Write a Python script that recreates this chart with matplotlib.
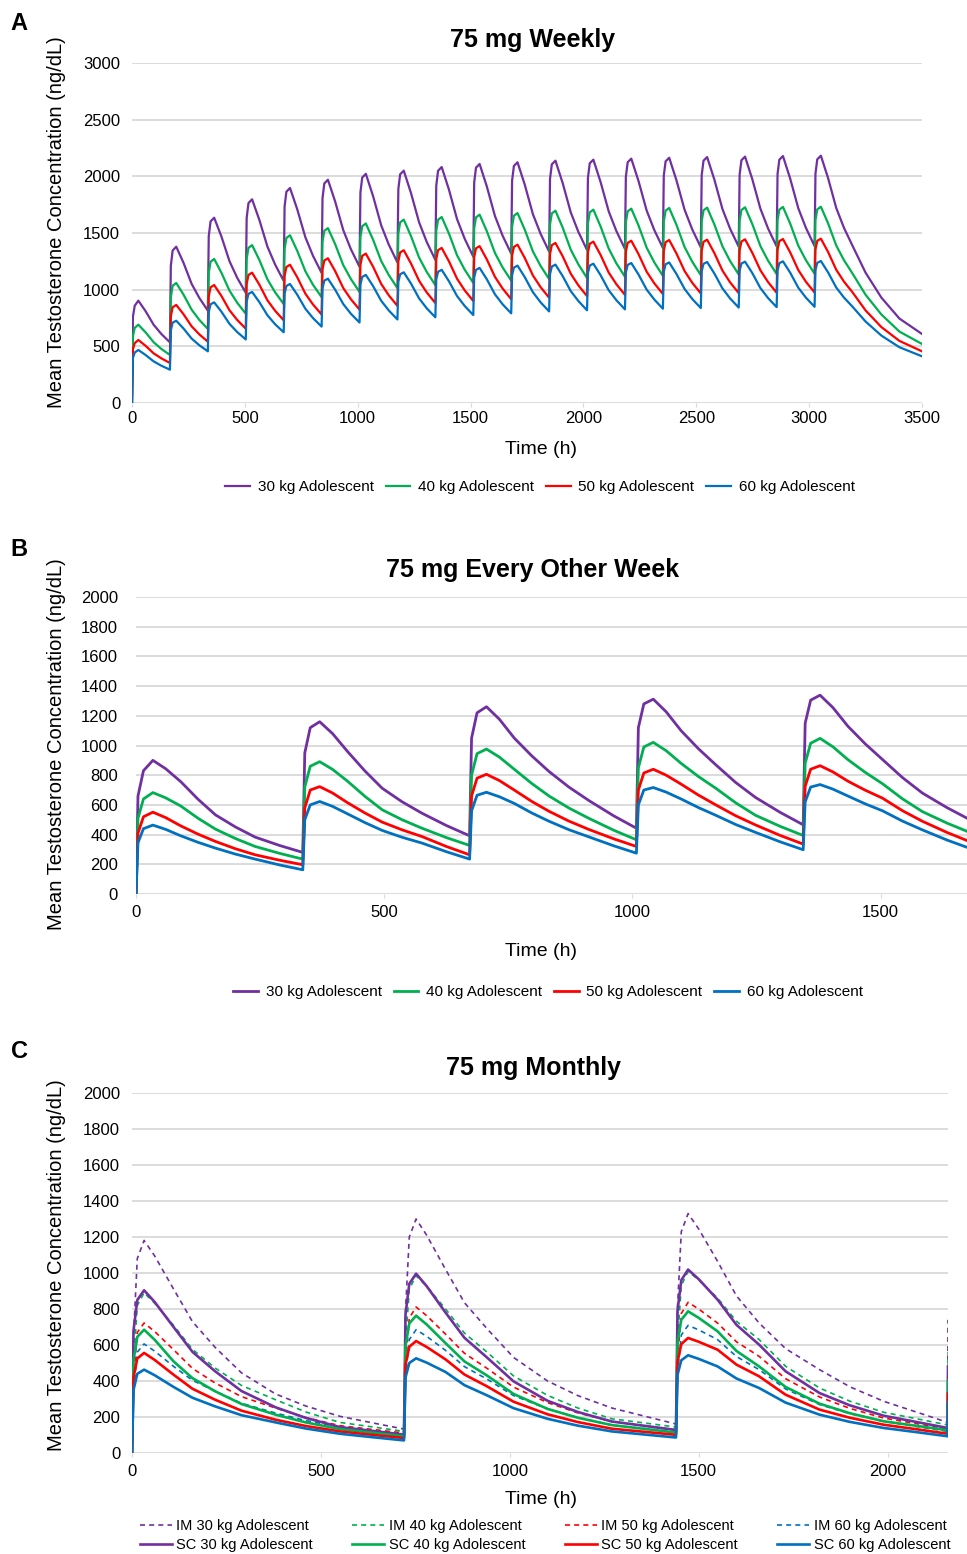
import numpy as np
import matplotlib
matplotlib.use("Agg")
import matplotlib.pyplot as plt

plt.rcParams['font.family'] = ['Liberation Sans', 'DejaVu Sans']

# colours used by the original (Excel standard palette)
PURPLE, GREEN, RED, BLUE = '#7030A0', '#00B050', '#FF0000', '#0070C0'
GRID = '#D9D9D9'

# ---------------- Panel A: 75 mg weekly ----------------
dose_a = [0, 168, 336, 504, 672, 840, 1008, 1176, 1344, 1512, 1680, 1848,
          2016, 2184, 2352, 2520, 2688, 2856, 3024]
# sampling times after each dose (h): pre-dose, rise, near peak, peak, decline...
off_a = [0, 4, 12, 28, 60, 96, 130]
tail_a_h = [3192, 3250, 3320, 3400, 3500]

conc_a30 = [
    0, 760, 858, 903, 811, 690, 609,
    535, 1210, 1345, 1379, 1238, 1052, 928,
    815, 1471, 1602, 1635, 1470, 1251, 1105,
    973, 1632, 1764, 1797, 1617, 1380, 1222,
    1078, 1733, 1864, 1897, 1710, 1463, 1298,
    1148, 1806, 1937, 1970, 1778, 1525, 1356,
    1202, 1858, 1989, 2022, 1826, 1568, 1396,
    1240, 1888, 2018, 2050, 1853, 1594, 1420,
    1263, 1918, 2049, 2082, 1884, 1623, 1449,
    1291, 1945, 2076, 2109, 1911, 1650, 1476,
    1318, 1963, 2092, 2124, 1927, 1667, 1494,
    1336, 1978, 2106, 2138, 1941, 1681, 1508,
    1350, 1988, 2115, 2147, 1950, 1691, 1517,
    1360, 1997, 2124, 2156, 1959, 1699, 1526,
    1368, 2005, 2132, 2164, 1966, 1706, 1532,
    1374, 2011, 2138, 2170, 1972, 1711, 1537,
    1379, 2015, 2142, 2174, 1976, 1715, 1540,
    1382, 2020, 2147, 2179, 1980, 1718, 1544,
    1385, 2023, 2150, 2182, 1984, 1721, 1547,
    1388, 1150, 930, 745, 609]

conc_a40 = [
    0, 587, 663, 691, 624, 536, 477,
    424, 932, 1034, 1059, 957, 824, 734,
    653, 1147, 1246, 1271, 1150, 991, 885,
    788, 1272, 1369, 1393, 1263, 1091, 977,
    873, 1359, 1456, 1480, 1343, 1163, 1043,
    934, 1421, 1519, 1543, 1402, 1216, 1093,
    980, 1463, 1560, 1584, 1441, 1253, 1128,
    1014, 1497, 1594, 1618, 1473, 1283, 1156,
    1040, 1521, 1617, 1641, 1496, 1304, 1176,
    1060, 1542, 1638, 1662, 1516, 1324, 1196,
    1080, 1557, 1652, 1676, 1530, 1338, 1210,
    1094, 1576, 1673, 1697, 1548, 1352, 1222,
    1103, 1585, 1682, 1706, 1558, 1363, 1232,
    1114, 1595, 1691, 1715, 1567, 1371, 1241,
    1122, 1601, 1697, 1721, 1573, 1377, 1247,
    1128, 1605, 1700, 1724, 1576, 1382, 1252,
    1134, 1608, 1703, 1727, 1580, 1385, 1256,
    1138, 1612, 1706, 1730, 1583, 1388, 1259,
    1141, 1614, 1708, 1732, 1585, 1390, 1261,
    1143, 955, 781, 630, 521]

conc_a50 = [
    0, 473, 528, 556, 505, 438, 394,
    353, 763, 845, 865, 784, 677, 606,
    541, 941, 1021, 1041, 945, 818, 733,
    656, 1051, 1130, 1150, 1045, 906, 814,
    730, 1122, 1200, 1220, 1110, 965, 869,
    781, 1178, 1257, 1277, 1164, 1014, 915,
    824, 1219, 1298, 1318, 1203, 1051, 949,
    857, 1250, 1328, 1348, 1231, 1078, 975,
    882, 1271, 1349, 1368, 1251, 1097, 994,
    900, 1287, 1365, 1384, 1267, 1113, 1010,
    916, 1301, 1378, 1397, 1280, 1126, 1023,
    929, 1315, 1393, 1412, 1295, 1140, 1037,
    943, 1328, 1405, 1424, 1306, 1151, 1048,
    954, 1336, 1413, 1432, 1314, 1159, 1056,
    962, 1343, 1419, 1438, 1320, 1165, 1061,
    967, 1346, 1422, 1441, 1323, 1168, 1064,
    970, 1349, 1425, 1444, 1326, 1171, 1067,
    973, 1352, 1428, 1447, 1329, 1173, 1069,
    975, 1355, 1431, 1450, 1332, 1176, 1072,
    977, 817, 670, 548, 456]

conc_a60 = [
    0, 398, 445, 468, 424, 367, 329,
    294, 640, 709, 726, 658, 569, 510,
    456, 802, 871, 888, 806, 698, 626,
    561, 896, 963, 980, 891, 774, 695,
    624, 965, 1033, 1050, 956, 832, 749,
    674, 1012, 1080, 1097, 1000, 873, 787,
    710, 1046, 1113, 1130, 1032, 902, 816,
    737, 1070, 1136, 1153, 1054, 923, 835,
    756, 1091, 1158, 1175, 1075, 944, 856,
    776, 1109, 1175, 1192, 1092, 959, 871,
    791, 1128, 1195, 1212, 1111, 978, 889,
    808, 1138, 1204, 1221, 1120, 987, 899,
    818, 1147, 1213, 1229, 1128, 995, 907,
    826, 1153, 1219, 1235, 1134, 1001, 913,
    832, 1158, 1224, 1240, 1139, 1007, 918,
    838, 1163, 1228, 1244, 1143, 1011, 922,
    842, 1166, 1231, 1247, 1147, 1014, 926,
    846, 1169, 1234, 1250, 1150, 1017, 929,
    849, 1172, 1237, 1253, 1152, 1019, 931,
    850, 719, 595, 492, 412]

# ---------------- Panel B: 75 mg every other week ----------------
dose_b = [0, 336, 672, 1008, 1344]
off_b = [0, 4, 15, 34, 60, 90, 125, 160, 200, 240, 290]
end_b_h = [1680]

conc_b30 = [0, 660, 830, 900, 843, 757, 638, 533, 452, 383, 326,
            280, 950, 1120, 1160, 1080, 960, 829, 712, 621, 544, 460,
            392, 1050, 1220, 1261, 1177, 1050, 931, 825, 720, 630, 527,
            443, 1120, 1280, 1312, 1227, 1100, 978, 870, 751, 650, 549,
            466, 1150, 1305, 1339, 1255, 1130, 1011, 905, 784, 680, 581,
            500]
conc_b40 = [0, 510, 640, 683, 647, 593, 510, 437, 374, 320, 273,
            235, 720, 860, 891, 839, 760, 658, 567, 500, 443, 379,
            327, 800, 945, 976, 922, 840, 745, 660, 579, 510, 430,
            365, 850, 990, 1021, 965, 880, 791, 712, 614, 530, 455,
            394, 880, 1015, 1048, 991, 905, 819, 742, 641, 555, 477,
            414]
conc_b50 = [0, 410, 520, 551, 514, 459, 403, 354, 305, 264, 227,
            197, 580, 700, 723, 680, 615, 546, 484, 432, 387, 319,
            264, 660, 780, 806, 764, 700, 624, 557, 491, 435, 372,
            320, 700, 815, 840, 800, 740, 666, 600, 527, 465, 394,
            336, 725, 840, 864, 822, 760, 699, 645, 561, 490, 414,
            352]
conc_b60 = [0, 345, 440, 464, 435, 392, 348, 309, 269, 235, 195,
            163, 500, 600, 623, 590, 540, 481, 428, 382, 343, 284,
            235, 560, 665, 685, 655, 610, 546, 490, 433, 385, 325,
            275, 600, 700, 717, 686, 640, 582, 530, 468, 415, 351,
            298, 620, 720, 737, 706, 660, 607, 560, 491, 432, 363,
            307]

# ---------------- Panel C: 75 mg monthly, IM vs SC ----------------
dose_c = [0, 720, 1440]
off_c = [0, 4, 14, 32, 60, 110, 160, 220, 290, 380, 460, 550, 640]
end_c_h = [2159, 2160]   # last trough, then the next dose starting

im30 = [0, 650, 1080, 1181, 1095, 911, 730, 587, 445, 328, 261, 204, 166,
        133, 790, 1200, 1300, 1210, 1020, 835, 690, 531, 400, 319, 250, 203,
        161, 810, 1230, 1330, 1245, 1065, 873, 722, 580, 463, 368, 287, 225,
        170, 740]
im40 = [0, 490, 820, 890, 832, 709, 576, 472, 375, 296, 228, 170, 144,
        120, 600, 910, 985, 926, 800, 666, 560, 428, 320, 250, 190, 166,
        144, 620, 930, 1009, 962, 861, 732, 630, 482, 361, 288, 226, 189,
        156, 560]
im50 = [0, 400, 670, 722, 675, 574, 470, 389, 313, 250, 197, 152, 130,
        111, 500, 750, 811, 763, 660, 554, 470, 366, 280, 223, 175, 150,
        128, 520, 775, 837, 800, 722, 618, 537, 413, 311, 248, 194, 162,
        133, 450]
im60 = [0, 335, 560, 606, 566, 481, 404, 343, 276, 222, 180, 144, 122,
        102, 420, 630, 685, 648, 570, 480, 410, 319, 245, 196, 155, 135,
        118, 440, 655, 709, 684, 630, 536, 463, 356, 269, 219, 176, 146,
        120, 380]
sc30 = [0, 680, 850, 904, 839, 700, 562, 454, 344, 254, 195, 144, 122,
        102, 770, 940, 996, 927, 780, 640, 530, 398, 290, 228, 175, 150,
        128, 790, 960, 1019, 966, 852, 712, 602, 454, 333, 265, 207, 171,
        139, 480]
sc40 = [0, 515, 645, 685, 629, 509, 416, 343, 272, 213, 170, 133, 112,
        93, 595, 720, 763, 714, 610, 509, 430, 328, 245, 196, 155, 133,
        114, 615, 740, 787, 751, 676, 567, 481, 367, 274, 221, 176, 150,
        126, 400]
sc50 = [0, 420, 525, 556, 517, 435, 357, 296, 235, 185, 150, 120, 100,
        83, 490, 590, 622, 589, 520, 436, 370, 285, 215, 172, 135, 117,
        101, 505, 605, 639, 618, 574, 491, 426, 324, 241, 196, 157, 131,
        107, 330]
sc60 = [0, 350, 440, 463, 432, 367, 307, 259, 210, 170, 136, 107, 87,
        70, 420, 500, 526, 502, 450, 377, 320, 249, 190, 152, 120, 102,
        86, 435, 515, 543, 523, 481, 414, 361, 280, 213, 173, 139, 115,
        93, 280]

weights = ['30', '40', '50', '60']
colors = [PURPLE, GREEN, RED, BLUE]


def sample_times(doses, offsets, extra):
    return np.array([d + o for d in doses for o in offsets] + extra)


W, H = 967, 1554
fig = plt.figure(figsize=(W / 100, H / 100), dpi=100)


def box(left, right, top, bottom):
    return [left / W, 1 - bottom / H, (right - left) / W, (bottom - top) / H]


def style(ax, xmax, xticks, ymax, ystep, ypad, xpad):
    ax.set_xlim(0, xmax)
    ax.set_ylim(0, ymax)
    ax.set_xticks(xticks)
    ax.set_yticks(np.arange(0, ymax + 1, ystep))
    ax.grid(axis='y', color=GRID, lw=1.3)
    ax.set_axisbelow(True)
    for s in ax.spines.values():
        s.set_visible(False)
    ax.tick_params(axis='y', length=0, labelsize=12, pad=ypad)
    ax.tick_params(axis='x', length=3, color=GRID, labelsize=12, pad=xpad)


def ftext(x, y, s, **kw):
    fig.text(x / W, 1 - y / H, s, ha='center', va='center', **kw)


YLAB = 'Mean Testosterone Concentration (ng/dL)'

# ---- A ----
ax_a = fig.add_axes(box(132, 922, 63, 403))
t_a = sample_times(dose_a, off_a, tail_a_h)
handles = []
for w, c, y in zip(weights, colors, [conc_a30, conc_a40, conc_a50, conc_a60]):
    h, = ax_a.plot(t_a, y, color=c, lw=1.6, label=f'{w} kg Adolescent')
    handles.append(h)
style(ax_a, 3500, np.arange(0, 3501, 500), 3000, 500, 8.5, 2.5)
fig.legend(handles=handles, loc='center', bbox_to_anchor=(540 / W, 1 - 487 / H),
           ncol=4, frameon=False, fontsize=11, handlelength=1.6,
           handletextpad=0.5, columnspacing=0.8)
ftext(19, 24, 'A', fontsize=17, fontweight='bold')
ftext(533, 40, '75 mg Weekly', fontsize=18, fontweight='bold')
ftext(57, 222, YLAB, rotation=90, fontsize=14.5)
ftext(541, 450, 'Time (h)', fontsize=14)

# ---- B ----
ax_b = fig.add_axes(box(136, 967, 597, 894))
t_b = sample_times(dose_b, off_b, end_b_h)
handles = []
for w, c, y in zip(weights, colors, [conc_b30, conc_b40, conc_b50, conc_b60]):
    h, = ax_b.plot(t_b, y, color=c, lw=2.0, label=f'{w} kg Adolescent')
    handles.append(h)
style(ax_b, 1674, [0, 500, 1000, 1500], 2000, 200, 13, 5)
fig.legend(handles=handles, loc='center', bbox_to_anchor=(548 / W, 1 - 992 / H),
           ncol=4, frameon=False, fontsize=11, handlelength=1.6,
           handletextpad=0.5, columnspacing=0.8)
ftext(19, 549, 'B', fontsize=17, fontweight='bold')
ftext(533, 570, '75 mg Every Other Week', fontsize=18, fontweight='bold')
ftext(57, 744, YLAB, rotation=90, fontsize=14.5)
ftext(541, 951, 'Time (h)', fontsize=14)

# ---- C ----
ax_c = fig.add_axes(box(132, 948, 1093, 1453))
t_c = sample_times(dose_c, off_c, end_c_h)
handles = []
for w, c, y in zip(weights, colors, [im30, im40, im50, im60]):
    h, = ax_c.plot(t_c, y, color=c, lw=1.2, ls=(0, (3, 2.5)), label=f'IM {w} kg Adolescent')
    handles.append(h)
for w, c, y in zip(weights, colors, [sc30, sc40, sc50, sc60]):
    h, = ax_c.plot(t_c, y, color=c, lw=1.9, label=f'SC {w} kg Adolescent')
    handles.append(h)
style(ax_c, 2160, [0, 500, 1000, 1500, 2000], 2000, 200, 8.5, 5)
# column-major fill: IM on the first row, SC on the second
order = [0, 4, 1, 5, 2, 6, 3, 7]
fig.legend(handles=[handles[i] for i in order], loc='center',
           bbox_to_anchor=(545 / W, 1 - 1535.5 / H), ncol=4, frameon=False,
           fontsize=10.5, handlelength=2.2, handletextpad=0.3,
           columnspacing=2.7, labelspacing=0.3)
ftext(19, 1051, 'C', fontsize=17, fontweight='bold')
ftext(533, 1068, '75 mg Monthly', fontsize=18, fontweight='bold')
ftext(57, 1265, YLAB, rotation=90, fontsize=14.5)
ftext(541, 1500, 'Time (h)', fontsize=14)

fig.savefig('out.png', dpi=100)
